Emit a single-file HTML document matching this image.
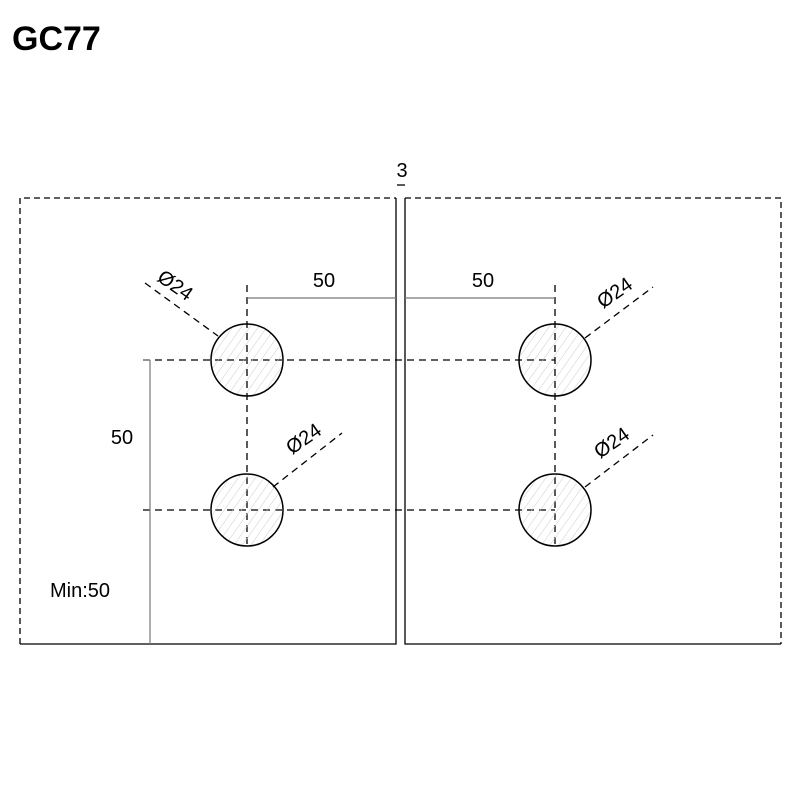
<!DOCTYPE html>
<html><head><style>body{margin:0;background:#fff}</style></head><body>
<svg width="800" height="800" viewBox="0 0 800 800" xmlns="http://www.w3.org/2000/svg" font-family="Liberation Sans, sans-serif">
<defs><pattern id="h" width="7" height="7" patternUnits="userSpaceOnUse" patternTransform="rotate(35)"><line x1="0" y1="0" x2="0" y2="7" stroke="#ccc" stroke-width="1"/></pattern></defs>
<text x="12" y="50" font-size="34" font-weight="bold">GC77</text>
<g fill="none" stroke="#000" stroke-width="1.3">
<path d="M20 644V198H396M405 198H781V644" stroke-dasharray="6,4"/>
<path d="M20 644H396V198M405 198V644H781"/>
<line x1="397" y1="185" x2="405" y2="185"/>
<g stroke-dasharray="7,5">
<line x1="143" y1="360" x2="555" y2="360"/><line x1="143" y1="510" x2="555" y2="510"/>
<line x1="247" y1="285" x2="247" y2="548"/><line x1="555" y1="285" x2="555" y2="548"/>
<line x1="145" y1="283" x2="218" y2="336"/><line x1="585" y1="338" x2="653" y2="287"/>
<line x1="273" y1="487" x2="342" y2="433"/><line x1="585" y1="487" x2="653" y2="435"/>
</g>
</g>
<g stroke="#777" stroke-width="1.2"><line x1="247" y1="298" x2="396" y2="298"/><line x1="405" y1="298" x2="555" y2="298"/><line x1="150" y1="360" x2="150" y2="644"/><line x1="143" y1="360" x2="150" y2="360"/></g>
<g stroke="#000" stroke-width="1.5" fill="url(#h)">
<circle cx="247" cy="360" r="36"/><circle cx="247" cy="510" r="36"/><circle cx="555" cy="360" r="36"/><circle cx="555" cy="510" r="36"/>
</g>
<g font-size="20">
<text x="324" y="287" text-anchor="middle">50</text>
<text x="483" y="287" text-anchor="middle">50</text>
<text x="122" y="444" text-anchor="middle">50</text>
<text x="50" y="597">Min:50</text>
<text x="402" y="177" text-anchor="middle">3</text>
<text transform="translate(156,280) rotate(35)">Ø24</text>
<text transform="translate(603,309) rotate(-35)">Ø24</text>
<text transform="translate(292,455) rotate(-35)">Ø24</text>
<text transform="translate(600,459) rotate(-35)">Ø24</text>
</g>
</svg>
</body></html>
